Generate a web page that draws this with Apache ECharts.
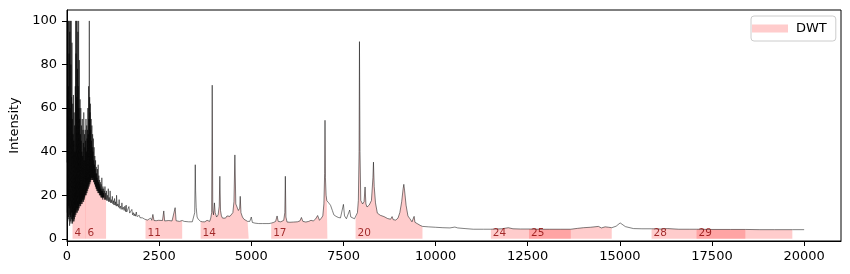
<!DOCTYPE html>
<html>
<head>
<meta charset="utf-8">
<script src="https://cdn.jsdelivr.net/npm/echarts@6/dist/echarts.min.js"></script>
<style>
  html, body { margin: 0; padding: 0; background: #fff; }
  #main { width: 850px; height: 274px; }
</style>
</head>
<body>
<div id="main"></div>
<script>
// noisy start of the spectrum, one reading every 5 units (0 .. 1000)
const lowStep = 5;
const lowIntensity = [
  35, 100, 12, 90, 8, 100, 15, 70, 10, 100, 9, 85, 14, 100, 6, 95, 11, 60, 8, 100,
  10, 80, 7, 100, 9, 65, 12, 90, 8, 55, 7, 62, 9, 48, 8, 66, 10, 45, 8, 58,
  9, 52, 11, 40, 10, 70, 12, 100, 11, 85, 13, 100, 12, 65, 14, 100, 12, 78, 13, 95,
  14, 70, 13, 100, 15, 60, 14, 82, 16, 55, 15, 64, 16, 48, 15, 60, 17, 45, 16, 52,
  17, 40, 16, 55, 18, 38, 17, 50, 18, 44, 17, 58, 19, 36, 18, 48, 19, 42, 20, 50,
  20, 45, 21, 55, 20, 40, 22, 52, 21, 46, 23, 50, 22, 60, 24, 48, 23, 70, 25, 55,
  24, 100, 26, 65, 25, 58, 27, 62, 26, 50, 27, 55, 28, 45, 27, 52, 28, 42, 27, 48,
  27, 40, 28, 46, 26, 36, 27, 42, 26, 34, 25, 38, 25, 32, 24, 36, 24, 30, 23, 33,
  23, 30, 22, 28, 23, 32, 22, 27, 21, 34, 22, 26, 21, 29, 21, 25, 20, 27, 21, 24,
  20, 26, 20, 23, 19, 25, 20, 22, 19, 28, 19, 23, 19, 22, 18, 24, 19, 21, 19, 23,
  19
];

// rest of the spectrum, [shift, intensity]
const tailPoints = [
  [1010, 22], [1020, 18], [1030, 24], [1040, 18], [1050, 21], [1060, 18], [1070, 22], [1080, 17.5],
  [1095, 20], [1110, 17.5], [1120, 23], [1130, 17], [1145, 19], [1160, 17], [1170, 22], [1185, 16.5],
  [1200, 18], [1215, 16.5], [1230, 19.5], [1245, 16], [1260, 17.5], [1275, 15.5], [1290, 18.5], [1305, 15.5],
  [1320, 17], [1335, 15], [1345, 20], [1360, 15], [1380, 16], [1400, 14.5], [1415, 18], [1430, 14],
  [1450, 15], [1470, 13.5], [1490, 16.5], [1510, 13.5], [1530, 14.5], [1550, 13], [1570, 15], [1590, 12.5],
  [1605, 15.5], [1620, 12.3], [1640, 13], [1660, 12], [1680, 14.8], [1700, 11.8], [1720, 12.5], [1740, 11.5],
  [1760, 13.5], [1780, 11], [1800, 12], [1820, 10.5], [1840, 11.5], [1860, 10.4], [1880, 12.3], [1900, 10.2],
  [1920, 11], [1940, 10], [1960, 10.8], [1980, 9.7], [2000, 10.5], [2020, 9.5], [2050, 9.6], [2070, 9.1],
  [2090, 10.5], [2110, 9], [2130, 8.8],
  [2180, 8.6], [2230, 8.8], [2270, 9.5], [2300, 8.5], [2330, 11.2], [2360, 8.4], [2420, 8.3], [2480, 8.5],
  [2530, 8.2], [2590, 8.4], [2626, 12.8], [2650, 8.2], [2700, 8.3], [2760, 8.4], [2800, 8.1], [2850, 8.2],
  [2900, 8.5], [2934, 14.3], [2960, 8.3], [3000, 8.2], [3050, 8.0], [3100, 8.6], [3125, 8.4], [3180, 8.0],
  [3230, 7.7], [3300, 7.8], [3350, 8.2], [3400, 7.8], [3440, 8.5], [3465, 12], [3480, 34], [3490, 22],
  [3505, 14.5], [3530, 10], [3560, 9], [3600, 8.2], [3625, 8], [3680, 7.8], [3740, 7.8], [3800, 8.5],
  [3830, 9], [3870, 8], [3900, 9.5], [3925, 12], [3940, 70.5], [3955, 13], [3975, 11], [4000, 16.5],
  [4020, 12], [4060, 10], [4100, 11], [4130, 15], [4147, 28.7], [4165, 13], [4190, 10.5], [4220, 9.5],
  [4260, 10], [4300, 9.5], [4340, 10.5], [4380, 9.8], [4420, 10.3], [4460, 10], [4500, 12], [4530, 17],
  [4555, 38.5], [4580, 16], [4620, 16], [4650, 13], [4685, 14], [4700, 19.5], [4720, 12], [4760, 10],
  [4800, 9], [4850, 8.5], [4900, 8], [4930, 7.7], [4960, 8], [5000, 10], [5030, 7.5], [5100, 7.2],
  [5200, 7], [5300, 7], [5400, 7], [5480, 7], [5540, 7.2], [5600, 7.5], [5660, 8], [5700, 10.5],
  [5730, 8], [5800, 7.8], [5880, 8.5], [5910, 12], [5924, 28.7], [5940, 10], [5970, 7.7], [6050, 7.6],
  [6150, 7.7], [6250, 7.8], [6320, 8.2], [6360, 9.8], [6400, 8], [6480, 7.7], [6560, 8], [6620, 8.5],
  [6680, 8.2], [6740, 9], [6800, 10.7], [6850, 8.5], [6900, 9.5], [6940, 10.5], [6970, 16], [6990, 30],
  [7000, 54.4], [7012, 28], [7030, 20], [7050, 17.5], [7065, 17], [7100, 16.5], [7150, 15.4], [7200, 13],
  [7240, 11], [7300, 10.3], [7360, 9.8], [7420, 9.6], [7470, 10.5], [7500, 15.8], [7530, 10.5], [7580, 9.2],
  [7630, 9.0], [7670, 13.2], [7700, 10], [7750, 9.5], [7800, 9.2], [7830, 9.3], [7880, 12], [7905, 17.6],
  [7925, 40], [7935, 90.5], [7950, 40], [7970, 17.6], [8020, 16], [8060, 17], [8087, 23.8], [8110, 16],
  [8140, 14.6], [8200, 15.5], [8260, 17.6], [8300, 28], [8315, 35.2], [8335, 24], [8370, 16.5], [8420, 11.8],
  [8500, 10.8], [8600, 10.2], [8700, 9.3], [8780, 9], [8820, 10.2], [8850, 8.8], [8920, 8.6], [8980, 9.5],
  [9030, 12], [9080, 17], [9120, 23], [9139, 25], [9160, 22], [9200, 15.4], [9250, 10.5], [9300, 9.3],
  [9360, 7.8], [9400, 8.5], [9418, 10.3], [9440, 7.6], [9500, 7.0], [9580, 6.2], [9645, 5.7], [9800, 5.5],
  [10000, 5.3], [10200, 5.1], [10390, 5.0], [10524, 5.4], [10600, 5.0], [10800, 4.7], [11022, 4.4], [11300, 4.4],
  [11500, 4.4], [11800, 4.6], [11973, 5.1], [12100, 4.6], [12300, 4.5], [12535, 4.5], [12800, 4.4], [13100, 4.4],
  [13400, 4.4], [13668, 4.4], [13850, 4.8], [14011, 5.1], [14200, 5.3], [14418, 5.7], [14500, 5.0], [14600, 5.5],
  [14700, 5.3], [14780, 5.1], [14900, 5.8], [15008, 7.3], [15150, 5.6], [15370, 4.7], [15600, 4.6], [15860, 4.6],
  [16100, 4.5], [16300, 4.7], [16600, 4.4], [16900, 4.4], [17080, 4.4], [17500, 4.3], [18000, 4.3], [18405, 4.3],
  [18800, 4.2], [19200, 4.2], [19680, 4.2], [20000, 4.2]
];

// DWT regions
const regionIds = [4, 6, 11, 14, 17, 20, 24, 25, 28, 29];
const regionStart = [150, 500, 2130, 3625, 5540, 7830, 11500, 12535, 15860, 17080];
const regionEnd = [510, 1060, 3125, 4930, 7065, 9645, 13668, 14780, 18405, 19680];

const xTicks = [0, 2500, 5000, 7500, 10000, 12500, 15000, 17500, 20000];
const yTicks = [0, 20, 40, 60, 80, 100];

const spectrum = lowIntensity.map((v, i) => [i * lowStep, v]).concat(tailPoints);

const font = 'DejaVu Sans';
const pink = 'rgba(255,0,0,0.2)';

// one filled area per region, under the curve (drawn below the line)
const regionSeries = regionIds.map((id, i) => ({
    name: 'DWT',
    type: 'line',
    data: spectrum.filter(p => p[0] >= regionStart[i] && p[0] <= regionEnd[i]),
    symbol: 'none',
    silent: true,
    z: 1,
    itemStyle: { color: pink },
    lineStyle: { opacity: 0 },
    areaStyle: { color: pink, opacity: 1 }
}));

const chart = echarts.init(document.getElementById('main'));
chart.setOption({
    animation: false,
    grid: {
        left: 67, right: 9, top: 10, bottom: 33,
        show: true, borderColor: '#000', borderWidth: 1
    },
    legend: {
        data: [{ name: 'DWT', icon: 'rect', itemStyle: { color: '#ffcccc' } }],
        left: 751, top: 16,
        padding: [6, 9, 6, 1],
        itemWidth: 36, itemHeight: 8,
        borderColor: '#cccccc', borderWidth: 1, borderRadius: 3,
        backgroundColor: '#fff',
        textStyle: { fontFamily: font, fontSize: 13, color: '#000', padding: [0, 0, 0, 3] }
    },
    xAxis: {
        type: 'value', min: 0, max: 21000,
        splitLine: { show: false },
        axisLine: { onZero: false, lineStyle: { color: '#000' } },
        axisTick: { length: 5, lineStyle: { color: '#000' }, customValues: xTicks },
        axisLabel: {
            customValues: xTicks, margin: 9, formatter: v => String(v),
            fontFamily: font, fontSize: 13, color: '#000'
        }
    },
    yAxis: {
        type: 'value', min: -1, max: 105,
        name: 'Intensity', nameLocation: 'middle', nameGap: 42,
        nameTextStyle: { fontFamily: font, fontSize: 13, color: '#000' },
        splitLine: { show: false },
        axisLine: { show: true, onZero: false, lineStyle: { color: '#000' } },
        axisTick: { show: true, length: 5, lineStyle: { color: '#000' }, customValues: yTicks },
        axisLabel: {
            customValues: yTicks, margin: 10, formatter: v => String(v),
            fontFamily: font, fontSize: 13, color: '#000'
        }
    },
    series: [
        ...regionSeries,
        {
            name: 'spectrum',
            type: 'line',
            data: spectrum,
            symbol: 'none',
            silent: true,
            z: 2,
            lineStyle: { color: '#000', width: 0.5 }
        },
        {
            name: 'labels',
            type: 'scatter',
            data: regionIds.map((id, i) => [regionStart[i], 2.6, id]),
            symbolSize: 0,
            silent: true,
            z: 4,
            label: {
                show: true, position: 'right', distance: 2,
                formatter: p => p.value[2],
                fontFamily: font, fontSize: 10.5, color: '#8b0000'
            }
        }
    ]
});
</script>
</body>
</html>
